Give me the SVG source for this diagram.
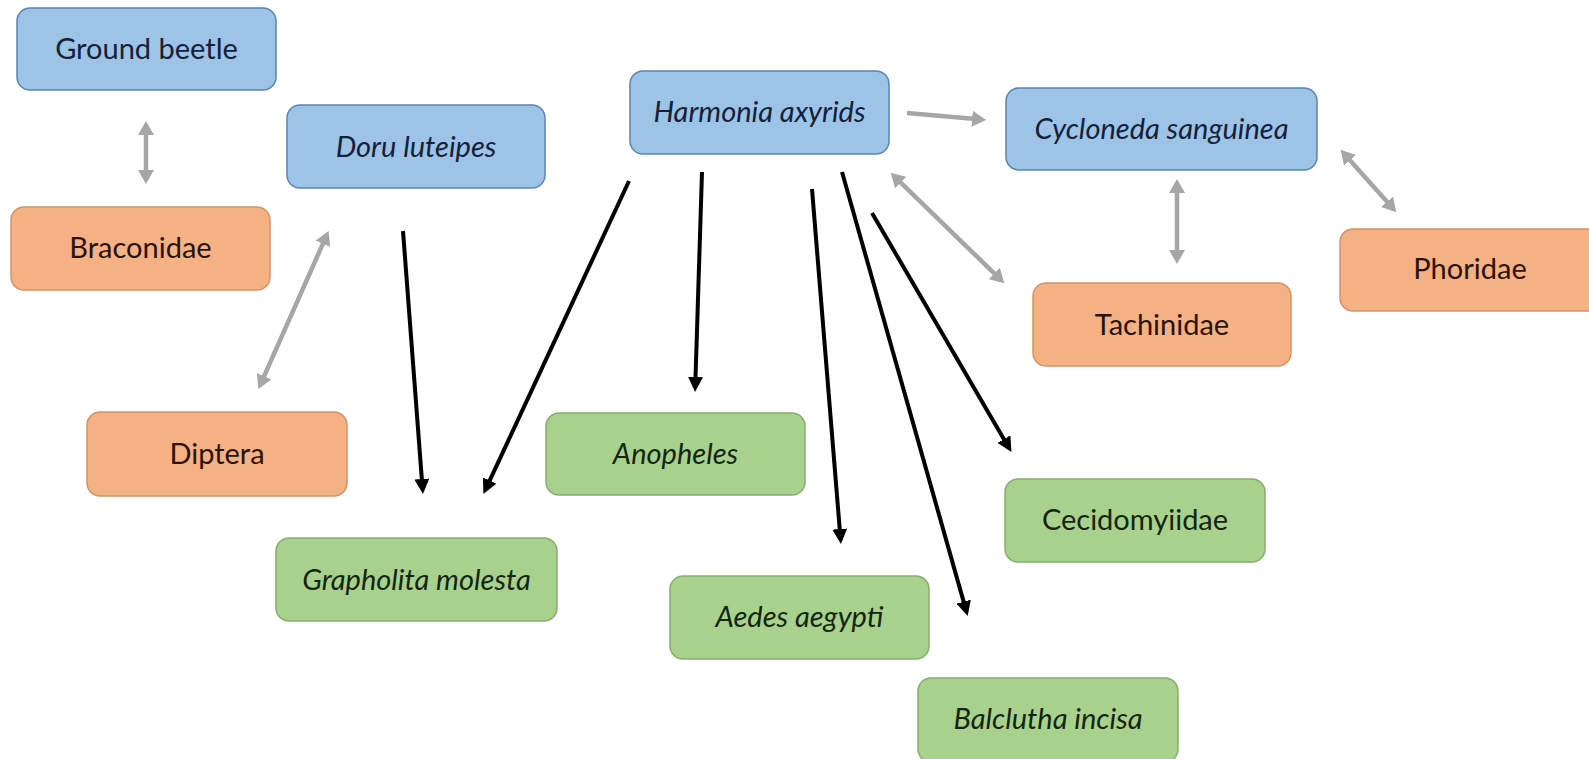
<svg xmlns="http://www.w3.org/2000/svg" width="1589" height="759" viewBox="0 0 1589 759">
  <style>
    .box { stroke-width: 1.5; }
    .blue { fill: #9DC3E6; stroke: #5b84b4; }
    .orange { fill: #F4B183; stroke: #d39467; }
    .green { fill: #A9D18E; stroke: #88ad6f; }
    text { font-family: Lato, "Open Sans", "Liberation Sans", sans-serif; font-size: 29px; text-anchor: middle; }
    .it { font-style: italic; }
    .tb { fill: #14213a; }
    .to { fill: #2a130a; }
    .tg { fill: #13260d; }
    .blk { stroke: #000; stroke-width: 4; fill: none; }
    .gry { stroke: #a6a6a6; stroke-width: 4.5; fill: none; }
  </style>
  <defs>
    <marker id="hb" viewBox="0 -7.5 15 15" markerUnits="userSpaceOnUse" markerWidth="15" markerHeight="15" refX="1" refY="0" orient="auto-start-reverse">
      <path d="M0,-7.5 L15,0 L0,7.5 z" fill="#000"/>
    </marker>
    <marker id="hg" viewBox="0 -8 14 16" markerUnits="userSpaceOnUse" markerWidth="14" markerHeight="16" refX="1" refY="0" orient="auto-start-reverse">
      <path d="M0,-8 L14,0 L0,8 z" fill="#a6a6a6"/>
    </marker>
  </defs>

  <g id="connectors">
    <line class="gry" x1="146" y1="134" x2="146" y2="171" marker-start="url(#hg)" marker-end="url(#hg)"/>
    <line class="gry" x1="263.7" y1="377.2" x2="323.3" y2="242.8" marker-start="url(#hg)" marker-end="url(#hg)"/>
    <line class="gry" x1="907" y1="113" x2="973.1" y2="118.8" marker-end="url(#hg)"/>
    <line class="gry" x1="900" y1="181.8" x2="995" y2="274.2" marker-start="url(#hg)" marker-end="url(#hg)"/>
    <line class="gry" x1="1177" y1="192" x2="1177" y2="251" marker-start="url(#hg)" marker-end="url(#hg)"/>
    <line class="gry" x1="1349.3" y1="159.5" x2="1387.7" y2="202.5" marker-start="url(#hg)" marker-end="url(#hg)"/>

    <line class="blk" x1="403" y1="231" x2="421.9" y2="480" marker-end="url(#hb)"/>
    <line class="blk" x1="629" y1="181" x2="489.3" y2="481.4" marker-end="url(#hb)"/>
    <line class="blk" x1="702" y1="172" x2="695.5" y2="378" marker-end="url(#hb)"/>
    <line class="blk" x1="812" y1="189" x2="839.8" y2="530" marker-end="url(#hb)"/>
    <line class="blk" x1="842" y1="172" x2="963.9" y2="602.6" marker-end="url(#hb)"/>
    <line class="blk" x1="872" y1="213" x2="1004.4" y2="440" marker-end="url(#hb)"/>
  </g>

  <g id="ground-beetle">
    <rect class="box blue" x="17" y="8" width="259" height="82" rx="13"/>
    <text class="tb" x="146.5" y="59">Ground beetle</text>
  </g>
  <g id="doru-luteipes">
    <rect class="box blue" x="287" y="105" width="258" height="83" rx="13"/>
    <text class="tb it" x="416" y="157">Doru luteipes</text>
  </g>
  <g id="braconidae">
    <rect class="box orange" x="11" y="207" width="259" height="83" rx="13"/>
    <text class="to" x="140.5" y="258">Braconidae</text>
  </g>
  <g id="diptera">
    <rect class="box orange" x="87" y="412" width="260" height="84" rx="13"/>
    <text class="to" x="217" y="464">Diptera</text>
  </g>
  <g id="harmonia-axyrids">
    <rect class="box blue" x="630" y="71" width="259" height="83" rx="13"/>
    <text class="tb it" x="759.5" y="122">Harmonia axyrids</text>
  </g>
  <g id="cycloneda-sanguinea">
    <rect class="box blue" x="1006" y="88" width="311" height="82" rx="13"/>
    <text class="tb it" x="1161.5" y="139">Cycloneda sanguinea</text>
  </g>
  <g id="tachinidae">
    <rect class="box orange" x="1033" y="283" width="258" height="83" rx="13"/>
    <text class="to" x="1162" y="335">Tachinidae</text>
  </g>
  <g id="phoridae">
    <rect class="box orange" x="1340" y="229" width="262" height="82" rx="13"/>
    <text class="to" x="1470" y="279">Phoridae</text>
  </g>
  <g id="anopheles">
    <rect class="box green" x="546" y="413" width="259" height="82" rx="13"/>
    <text class="tg it" x="675.5" y="464">Anopheles</text>
  </g>
  <g id="grapholita-molesta">
    <rect class="box green" x="276" y="538" width="281" height="83" rx="13"/>
    <text class="tg it" x="416.5" y="590">Grapholita molesta</text>
  </g>
  <g id="aedes-aegypti">
    <rect class="box green" x="670" y="576" width="259" height="83" rx="13"/>
    <text class="tg it" x="799.5" y="627">Aedes aegypti</text>
  </g>
  <g id="cecidomyiidae">
    <rect class="box green" x="1005" y="479" width="260" height="83" rx="13"/>
    <text class="tg" x="1135" y="530">Cecidomyiidae</text>
  </g>
  <g id="balclutha-incisa">
    <rect class="box green" x="918" y="678" width="260" height="84" rx="13"/>
    <text class="tg it" x="1048" y="729">Balclutha incisa</text>
  </g>
</svg>
